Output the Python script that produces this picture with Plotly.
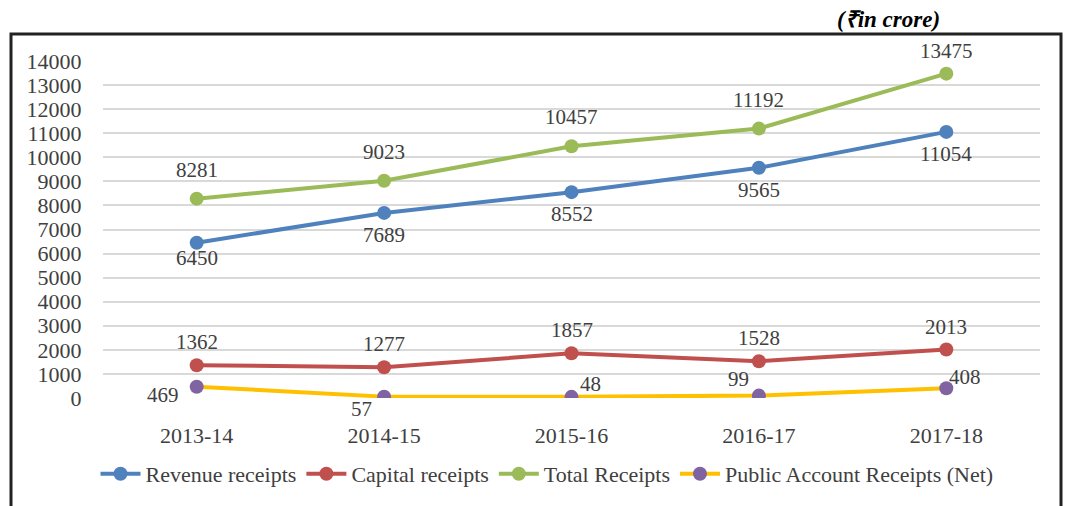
import plotly.graph_objects as go

years = ["2013-14", "2014-15", "2015-16", "2016-17", "2017-18"]
revenue = [6450, 7689, 8552, 9565, 11054]
capital = [1362, 1277, 1857, 1528, 2013]
total = [8281, 9023, 10457, 11192, 13475]
public_acct = [469, 57, 48, 99, 408]

W, H = 1072, 506
L, R, T, B = 103, 32, 61, 107
pw, ph = W - L - R, H - T - B

serif = "Liberation Serif, Times New Roman, serif"
grey = "#404040"


def px(x):
    return (x - L) / pw


def py(y):
    return (H - B - y) / ph


fig = go.Figure()

series = [
    ("Revenue receipts", revenue, "#4F81BD", "#4F81BD"),
    ("Capital receipts", capital, "#C0504D", "#C0504D"),
    ("Total Receipts", total, "#9BBB59", "#9BBB59"),
    ("Public Account Receipts (Net)", public_acct, "#FFC000", "#8064A2"),
]
for name, vals, lc, mc in series:
    fig.add_trace(go.Scatter(
        x=years, y=vals, name=name, mode="lines+markers",
        line=dict(color=lc, width=4), marker=dict(color=mc, size=14),
    ))

# data label offsets (pixels) per series
label_shift = {
    "Revenue receipts": [(0, -15), (0, -22), (0, -22), (0, -22), (0, -22)],
    "Capital receipts": [(0, 23)] * 5,
    "Total Receipts": [(0, 29)] * 4 + [(0, 23)],
    "Public Account Receipts (Net)": [(-34, -8), (-23, -12), (19, 13), (-20, 17), (19, 11)],
}
for name, vals, lc, mc in series:
    for i, (yr, v) in enumerate(zip(years, vals)):
        dx, dy = label_shift[name][i]
        fig.add_annotation(
            x=yr, y=v, text=str(v), showarrow=False, xshift=dx, yshift=dy,
            font=dict(family=serif, size=21, color=grey),
        )

# outer frame
fig.add_shape(
    type="rect", xref="paper", yref="paper",
    x0=px(11), x1=px(1061), y0=-0.6, y1=py(34),
    line=dict(color="#222222", width=3), fillcolor="rgba(0,0,0,0)",
)

fig.add_annotation(
    text="(₹in crore)",
    xref="paper", yref="paper", x=px(835), xanchor="left", y=py(5), showarrow=False,
    font=dict(family=serif, size=23, color="#000000", weight="bold", style="italic"),
)

fig.update_layout(
    width=W, height=H,
    margin=dict(l=L, r=R, t=T, b=B),
    paper_bgcolor="white", plot_bgcolor="white",
    font=dict(family=serif, size=21, color=grey),
    showlegend=True,
    legend=dict(
        orientation="h", x=px(547), xanchor="center", y=py(474), yanchor="middle",
        font=dict(family=serif, size=22, color=grey),
        itemwidth=40, tracegroupgap=0,
    ),
    xaxis=dict(
        range=[-0.5, 4.5], showgrid=False, zeroline=False, showline=False,
        ticks="outside", ticklen=18, tickcolor="rgba(0,0,0,0)",
        tickfont=dict(family=serif, size=22, color=grey),
    ),
    yaxis=dict(
        range=[0, 14000], dtick=1000, tickformat="d",
        showgrid=True, gridcolor="#D9D9D9", gridwidth=1.5,
        zeroline=False, showline=False,
        ticks="outside", ticklen=16, tickcolor="rgba(0,0,0,0)",
        tickfont=dict(family=serif, size=22, color=grey),
    ),
)

fig.write_html(
    "out.html",
    config={"displayModeBar": False},
    post_script="document.body.style.margin='0';document.body.style.overflow='hidden';",
)
